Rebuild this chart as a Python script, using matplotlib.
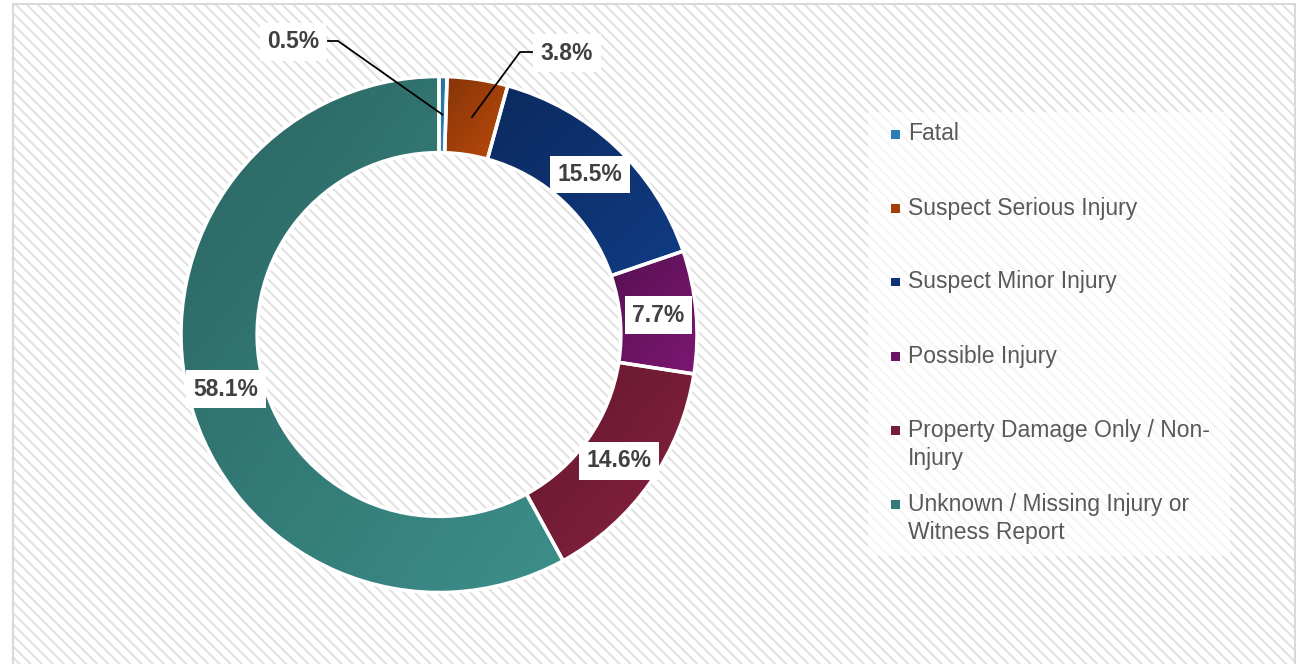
"""Injury severity share donut chart."""

import matplotlib

matplotlib.use("Agg")
import matplotlib.pyplot as plt
import numpy as np
from matplotlib.colors import to_rgb
from matplotlib.patches import Rectangle


categories = [
    "Fatal",
    "Suspect Serious Injury",
    "Suspect Minor Injury",
    "Possible Injury",
    "Property Damage Only / Non-\nInjury",
    "Unknown / Missing Injury or\nWitness Report",
]
shares = [0.5, 3.8, 15.5, 7.7, 14.6, 58.1]
colors = ["#2b7fb6", "#a3400a", "#0e3372", "#6b1463", "#771d37", "#347b77"]

# layout in pixels of the 1307x664 canvas
W, H = 1307, 664
CX, CY, R = 439, 334.5, 258.0
HOLE = 0.705
# small slices get an outside label: (text centre px, leader start px, elbow px)
OUTSIDE = {
    0: ((293, 42), (328, 41), (338, 41)),
    1: ((567, 53), (532, 52), (520, 52)),
}
TEXT_DARK = "#404040"
TEXT_LEGEND = "#595959"

plt.rcParams["font.family"] = ["Liberation Sans", "DejaVu Sans"]
plt.rcParams["hatch.linewidth"] = 1.4


def px(x, y):
    """pixel (from top-left) -> data units of the pie axes"""
    return (x - CX) / R, (CY - y) / R


def shade_wedge(ax, wedge, color):
    """diagonal gradient fill (darker top-left, lighter bottom-right) clipped to the wedge"""
    c = np.array(to_rgb(color))
    dark, light = c * 0.82, np.clip(c * 1.16, 0, 1)
    ext = wedge.get_path().get_extents()
    gx, gy = np.meshgrid(np.linspace(0, 1, 64), np.linspace(0, 1, 64))
    t = (gx + gy) / 2  # origin upper: row 0 is the top
    img = dark[None, None, :] + t[..., None] * (light - dark)[None, None, :]
    im = ax.imshow(img, extent=(ext.x0, ext.x1, ext.y0, ext.y1), origin="upper",
                   interpolation="bilinear", zorder=1.5, aspect="auto")
    im.set_clip_path(wedge)
    wedge.set_facecolor("none")
    wedge.set_zorder(2)


def main():
    fig = plt.figure(figsize=(W / 100, H / 100), dpi=100)
    ax = fig.add_axes([0, 0, 1, 1])
    ax.set_facecolor("none")

    # striped chart area + thin border
    ax.add_patch(Rectangle((13 / W, -0.02), (1295 - 13) / W, (H - 4) / H + 0.02,
                           transform=fig.transFigure, facecolor="white",
                           edgecolor="#e0e0e0", lw=0, hatch="\\\\\\", zorder=-20))
    ax.add_patch(Rectangle((13 / W, -0.02), (1295 - 13) / W, (H - 4) / H + 0.02,
                           transform=fig.transFigure, facecolor="none",
                           edgecolor="#d9d9d9", lw=1.5, zorder=-19))

    wedges, _ = ax.pie(
        shares,
        colors=colors,
        startangle=90,
        counterclock=False,
        radius=1.0,
        wedgeprops=dict(width=1 - HOLE, edgecolor="white", linewidth=2.5),
    )
    for w, col in zip(wedges, colors):
        shade_wedge(ax, w, col)

    r_mid = (1 + HOLE) / 2
    box = dict(boxstyle="square,pad=0.32", facecolor="white", edgecolor="none")
    for i, (w, val) in enumerate(zip(wedges, shares)):
        ang = np.deg2rad((w.theta1 + w.theta2) / 2)
        xm, ym = r_mid * np.cos(ang), r_mid * np.sin(ang)
        txt = f"{val:.1f}%"
        if i in OUTSIDE:
            tpos, start, elbow = OUTSIDE[i]
            tx, ty = px(*tpos)
            sx, sy = px(*start)
            ex, ey = px(*elbow)
            ax.plot([sx, ex, xm], [sy, ey, ym], color="black", lw=1.3, zorder=4)
            ax.text(tx, ty, txt, ha="center", va="center", fontsize=16.5,
                    fontweight="bold", color=TEXT_DARK, bbox=box, zorder=5)
        else:
            ax.text(xm, ym, txt, ha="center", va="center", fontsize=16.5,
                    fontweight="bold", color=TEXT_DARK, bbox=box, zorder=5)

    ax.set_xlim((0 - CX) / R, (W - CX) / R)
    ax.set_ylim((CY - H) / R, CY / R)
    ax.axis("off")

    # legend panel
    ax.add_patch(Rectangle((868 / W, 1 - 556 / H), (1230 - 868) / W, (556 - 112) / H,
                           transform=fig.transFigure, facecolor="white",
                           edgecolor="none", alpha=0.65, zorder=-18))
    row_y = [134, 208, 282, 356, 430, 504]
    for label, color, y in zip(categories, colors, row_y):
        ax.add_patch(Rectangle((891 / W, 1 - (y + 4.5) / H), 9 / W, 9 / H,
                               transform=fig.transFigure, facecolor=color,
                               edgecolor="none", zorder=6))
        for k, line in enumerate(label.split("\n")):
            fig.text(908 / W, 1 - (y + 29 * k) / H, line, ha="left", va="center",
                     fontsize=16.5, color=TEXT_LEGEND)

    fig.savefig("out.png", dpi=100)
    plt.close(fig)


if __name__ == "__main__":
    main()
